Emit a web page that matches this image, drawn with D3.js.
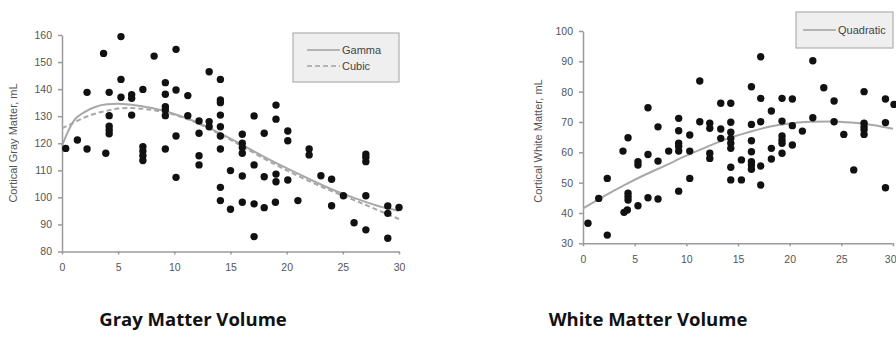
<!DOCTYPE html>
<html>
<head>
<meta charset="utf-8">
<script src="https://cdn.jsdelivr.net/npm/d3@7"></script>
<style>
  body { margin: 0; background: #fff; }
  svg { display: block; }
  .axis path, .axis line { stroke: #9a9a9a; stroke-width: 1.5; }
  .axis text { fill: #555; font-family: "Liberation Sans Narrow", "Liberation Sans", sans-serif; font-size: 10.5px; }
</style>
</head>
<body>
<svg id="chart" width="896" height="349"></svg>
<script>
// age in years / gray matter volume (mL)
const grayAge = [0.33, 1.37, 2.23, 2.23, 3.7, 3.9, 4.2, 4.2, 4.2, 4.2, 4.2, 5.25, 5.25, 5.25, 6.2, 6.2, 6.2,
  7.2, 7.2, 7.2, 7.2, 7.2, 8.2, 9.2, 9.2, 9.2, 9.2, 9.2, 9.2, 10.15, 10.15, 10.15, 10.15, 11.2, 11.2,
  12.2, 12.2, 12.2, 12.2, 13.1, 13.1, 13.1, 14.1, 14.1, 14.1, 14.1, 14.1, 14.1, 14.1, 14.1, 14.1,
  15, 15, 16.05, 16.05, 16.05, 16.05, 16.05, 16.05, 17.1, 17.1, 17.1, 17.1, 18, 18, 18,
  19.05, 19.05, 19.05, 19.05, 19, 20.1, 20.1, 20.1, 21, 22, 22, 23.05, 24, 24, 25.05, 26,
  27.05, 27.05, 27.05, 27.05, 27.05, 29, 29, 29, 30];
const grayVol = [118.1, 121.2, 138.8, 117.9, 153.2, 116.3, 138.8, 130.2, 126.3, 124.9, 123.5, 159.4, 143.6, 137, 137.9, 136.6, 130.4,
  139.9, 118.7, 117.1, 115.4, 113.6, 152.2, 142.4, 138.1, 133.5, 132.3, 130.2, 117.9, 154.7, 139.7, 122.7, 107.4, 137.6, 130.2,
  128.2, 123.7, 115.4, 112, 146.4, 128, 126.1, 143.6, 136, 135, 130.4, 126.1, 122.7, 117.9, 103.7, 98.8,
  109.9, 95.6, 123.3, 120, 118.4, 116.3, 107.9, 98.2, 130.1, 112, 97.6, 85.5, 123.7, 107.6, 96.2,
  134.1, 128.9, 108.6, 105.8, 98.2, 124.5, 120.9, 106.4, 98.8, 117.9, 115.7, 108, 106.7, 96.9, 100.6, 90.6,
  116, 114.8, 113.2, 100.6, 88, 96.8, 94.1, 84.9, 96.3];

// fitted curves
const gammaAge = [0, 0.5, 1, 2, 3, 4, 5, 6, 8, 10, 12, 14, 16, 18, 20, 22, 24, 26, 28, 30];
const gammaFit = [119, 124, 128, 131.5, 133.5, 134.4, 134.6, 134.3, 133, 130.8, 127.8, 123.8, 119.5, 115, 110.8, 106.8, 103, 99.8, 97, 95];
const cubicAge = [0, 1, 2, 3, 4, 5, 6, 8, 10, 12, 14, 16, 18, 20, 22, 24, 26, 28, 30];
const cubicFit = [125.5, 127.5, 129.5, 131, 132, 132.8, 133, 132.3, 130.5, 127.5, 123.5, 119, 114.3, 110, 106, 102.3, 99, 95.5, 92];

// age in years / white matter volume (mL)
const whiteAge = [0.48, 1.52, 2.35, 2.35, 3.87, 3.97, 4.29, 4.36, 4.36, 4.36, 4.36, 5.32, 5.32, 5.32, 6.29, 6.29, 6.29,
  7.26, 7.26, 7.26, 8.29, 9.26, 9.26, 9.26, 9.26, 9.26, 9.26, 10.33, 10.33, 10.33, 11.3, 11.3,
  12.27, 12.27, 12.27, 12.27, 13.33, 13.33, 13.33, 14.3, 14.3, 14.3, 14.3, 14.3, 14.3, 14.3, 14.3,
  15.33, 15.33, 16.3, 16.3, 16.3, 16.3, 16.3, 16.3, 16.3, 17.2, 17.2, 17.2, 17.2, 17.2,
  18.23, 18.23, 18.23, 19.26, 19.26, 19.26, 19.26, 19.26, 19.26, 20.26, 20.26, 20.26, 21.23,
  22.24, 22.24, 23.3, 24.3, 24.3, 25.24, 26.2, 27.2, 27.2, 27.2, 27.2, 27.2, 29.27, 29.27, 29.27, 30.1];
const whiteVol = [36.6, 44.8, 51.4, 32.7, 60.4, 40.2, 41, 64.8, 46.5, 45.4, 44.3, 56.9, 55.8, 42.4, 74.7, 59.3, 45,
  68.4, 57.1, 44.6, 60.4, 71.2, 67.1, 63, 61.9, 60.4, 47.2, 65.7, 60.4, 51.4, 83.5, 70.1,
  69.6, 67.9, 59.7, 58, 76.2, 67.7, 64.6, 76.2, 69.9, 66.6, 64.6, 63, 61.3, 55.1, 50.9,
  57.5, 50.9, 81.6, 69.2, 63.8, 60.2, 56.9, 55.8, 54.4, 91.5, 77.8, 70.1, 55.5, 49.2,
  73.6, 61.3, 57.8, 77.8, 70.3, 65.4, 64.1, 63, 59.7, 77.6, 68.8, 62.4, 67,
  90.2, 71.4, 81.3, 76.9, 70.1, 65.9, 54.2, 80, 69.6, 68.4, 67.4, 65.9, 77.6, 69.8, 48.3, 75.8];
const quadAge = [0, 2, 4, 6, 8, 10, 12, 14, 16, 18, 20, 22, 24, 26, 28, 30];
const quadFit = [41.5, 45.5, 49.2, 52.6, 55.7, 58.9, 61.8, 64.5, 66.6, 68.4, 69.5, 70.1, 70.2, 69.8, 69, 67.8];

const xTicks = [0, 5, 10, 15, 20, 25, 30];
const grayTicks = [80, 90, 100, 110, 120, 130, 140, 150, 160];
const whiteTicks = [30, 40, 50, 60, 70, 80, 90, 100];

const svg = d3.select("#chart");
svg.append("rect").attr("width", 896).attr("height", 349).attr("fill", "#fff");

function drawPanel(opt) {
  const x = d3.scaleLinear().domain([0, 30]).range(opt.xRange);
  const y = d3.scaleLinear().domain(opt.yDomain).range(opt.yRange);
  const g = svg.append("g");

  const xAxis = g.append("g")
    .attr("class", "axis")
    .attr("transform", "translate(0," + opt.yRange[0] + ")")
    .call(d3.axisBottom(x).tickValues(xTicks).tickSize(3).tickSizeOuter(0).tickPadding(8));
  xAxis.selectAll("text").attr("dy", "0.85em");
  // keep the last label inside the page
  if (opt.xRange[1] > 880) {
    xAxis.selectAll(".tick:last-of-type text").attr("text-anchor", "end").attr("x", 3);
  }

  g.append("g")
    .attr("class", "axis")
    .attr("transform", "translate(" + opt.xRange[0] + ",0)")
    .call(d3.axisLeft(y).tickValues(opt.yTicks).tickSize(4).tickSizeOuter(0).tickPadding(6));

  // y axis title
  g.append("text")
    .attr("transform", "translate(" + opt.labelX + "," + opt.labelY + ") rotate(-90)")
    .attr("text-anchor", "middle")
    .attr("font-family", "'Liberation Sans Narrow', 'Liberation Sans', sans-serif")
    .attr("font-size", 11)
    .attr("fill", "#555")
    .text(opt.yLabel);

  // fitted lines
  opt.fits.forEach(f => {
    const line = d3.line()
      .x((d, i) => x(f.ages[i]))
      .y(d => y(d))
      .curve(d3.curveMonotoneX);
    g.append("path")
      .datum(f.values)
      .attr("d", line)
      .attr("fill", "none")
      .attr("stroke", "#a8a8a8")
      .attr("stroke-width", 2)
      .attr("stroke-dasharray", f.dash ? "5,3" : null);
  });

  // points
  g.append("g")
    .selectAll("circle")
    .data(opt.ages)
    .enter()
    .append("circle")
      .attr("cx", d => x(d))
      .attr("cy", (d, i) => y(opt.vols[i]))
      .attr("r", 3.7)
      .attr("fill", "#111");

  // legend
  const lg = g.append("g").attr("transform", "translate(" + opt.legend.x + "," + opt.legend.y + ")");
  lg.append("rect")
    .attr("width", opt.legend.w).attr("height", opt.legend.h)
    .attr("fill", "#efefef").attr("stroke", "#b0b0b0").attr("stroke-width", 1.2);
  opt.fits.forEach((f, i) => {
    const yy = opt.legend.first + i * 16;
    lg.append("line")
      .attr("x1", opt.legend.lx).attr("x2", opt.legend.lx + 33)
      .attr("y1", yy).attr("y2", yy)
      .attr("stroke", "#a0a0a0").attr("stroke-width", 1.5)
      .attr("stroke-dasharray", f.dash ? "5,3" : null);
    lg.append("text")
      .attr("x", opt.legend.lx + 35).attr("y", yy).attr("dy", "0.35em")
      .attr("font-family", "'Liberation Sans Narrow', 'Liberation Sans', sans-serif")
      .attr("font-size", 11).attr("fill", "#444")
      .text(f.name);
  });

  // title under the panel
  svg.append("text")
    .attr("x", opt.titleX).attr("y", 326)
    .attr("text-anchor", "middle")
    .attr("font-family", "'Open Sans', sans-serif")
    .attr("font-weight", "bold")
    .attr("font-size", 18.5)
    .attr("fill", "#111")
    .text(opt.title);
}

drawPanel({
  xRange: [62, 399], yDomain: [80, 160], yRange: [251.5, 35], yTicks: grayTicks,
  ages: grayAge, vols: grayVol,
  yLabel: "Cortical Gray Matter, mL", labelX: 17, labelY: 143,
  fits: [
    { name: "Gamma", ages: gammaAge, values: gammaFit, dash: false },
    { name: "Cubic", ages: cubicAge, values: cubicFit, dash: true }
  ],
  legend: { x: 293, y: 33, w: 106, h: 49, lx: 14, first: 17 },
  title: "Gray Matter Volume", titleX: 193
});

drawPanel({
  xRange: [583, 893], yDomain: [30, 100], yRange: [243.3, 31], yTicks: whiteTicks,
  ages: whiteAge, vols: whiteVol,
  yLabel: "Cortical White Matter, mL", labelX: 542, labelY: 141,
  fits: [
    { name: "Quadratic", ages: quadAge, values: quadFit, dash: false }
  ],
  legend: { x: 796, y: 12, w: 97, h: 36, lx: 7, first: 18 },
  title: "White Matter Volume", titleX: 648
});
</script>
</body>
</html>
